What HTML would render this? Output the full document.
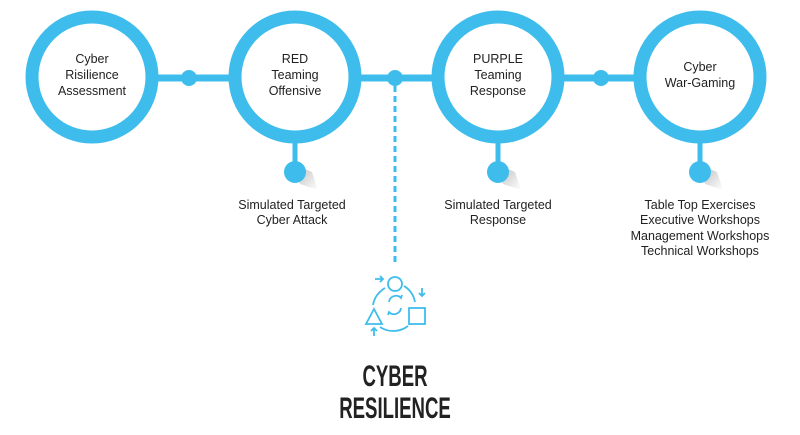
<!DOCTYPE html>
<html><head><meta charset="utf-8"><style>
html,body{margin:0;padding:0;background:#fff;}
svg{display:block}
.t{font-family:"Liberation Sans",sans-serif;font-size:12.5px;fill:#222;text-anchor:middle}
.c{font-family:"Liberation Sans",sans-serif;font-size:12.5px;fill:#222;text-anchor:middle}
.h{font-family:"Liberation Sans",sans-serif;font-weight:bold;font-size:30px;fill:#222;text-anchor:middle}
</style></head><body>
<svg width="800" height="435" viewBox="0 0 800 435">
<defs>
<linearGradient id="sh" x1="0" y1="0" x2="1" y2="1">
<stop offset="0" stop-color="#000" stop-opacity="0.28"/><stop offset="1" stop-color="#000" stop-opacity="0"/>
</linearGradient>
</defs>
<line x1="92" y1="78" x2="700" y2="78" stroke="#3ebdec" stroke-width="7"/>
<g fill="#3ebdec">
<circle cx="189" cy="78" r="8"/><circle cx="395" cy="78" r="8"/><circle cx="601" cy="78" r="8"/>
</g>
<line x1="395" y1="86" x2="395" y2="264" stroke="#3ebdec" stroke-width="3" stroke-dasharray="6,4"/>
<g fill="#fff" stroke="#3ebdec" stroke-width="13">
<circle cx="92" cy="77" r="60"/><circle cx="295" cy="77" r="60"/><circle cx="498" cy="77" r="60"/><circle cx="700" cy="77" r="60"/>
</g>
<g>
<polygon points="295,165 312,172 318,190 300,184" fill="url(#sh)"/>
<polygon points="498,165 515,172 521,190 503,184" fill="url(#sh)"/>
<polygon points="700,165 717,172 723,190 705,184" fill="url(#sh)"/>
</g>
<g stroke="#3ebdec" stroke-width="5">
<line x1="295" y1="140" x2="295" y2="165"/><line x1="498" y1="140" x2="498" y2="165"/><line x1="700" y1="140" x2="700" y2="165"/>
</g>
<g fill="#3ebdec">
<circle cx="295" cy="172" r="11"/><circle cx="498" cy="172" r="11"/><circle cx="700" cy="172" r="11"/>
</g>
<text class="c" x="92" y="63">Cyber</text><text class="c" x="92" y="79">Risilience</text><text class="c" x="92" y="95">Assessment</text>
<text class="c" x="295" y="63">RED</text><text class="c" x="295" y="79">Teaming</text><text class="c" x="295" y="95">Offensive</text>
<text class="c" x="498" y="63">PURPLE</text><text class="c" x="498" y="79">Teaming</text><text class="c" x="498" y="95">Response</text>
<text class="c" x="700" y="71">Cyber</text><text class="c" x="700" y="87">War-Gaming</text>
<text class="t" x="292" y="209">Simulated Targeted</text><text class="t" x="292" y="224">Cyber Attack</text>
<text class="t" x="498" y="209">Simulated Targeted</text><text class="t" x="498" y="224">Response</text>
<text class="t" x="700" y="209">Table Top Exercises</text><text class="t" x="700" y="224">Executive Workshops</text>
<text class="t" x="700" y="240">Management Workshops</text><text class="t" x="700" y="255">Technical Workshops</text>
<g fill="none" stroke="#3ebdec" stroke-width="1.8">
<circle cx="395" cy="284" r="7"/>
<rect x="409" y="308" width="16" height="16"/>
<polygon points="374,309 366,324 382,324"/>
<path d="M385 288 A24 24 0 0 0 373 305"/>
<path d="M404 286 A24 24 0 0 1 415 302"/>
<path d="M380 327 A24 24 0 0 0 408 326"/>
<path d="M375 279 L383 279 M380 276 L383 279 L380 282"/>
<path d="M422 288 L422 296 M419 293 L422 296 L425 293"/>
<path d="M374 336 L374 328 M371 331 L374 328 L377 331"/>
<path d="M389 302 A7 7 0 0 1 401 298 M399 296 L401 298 L402 295"/>
<path d="M401 308 A7 7 0 0 1 389 312 M391 314 L389 312 L388 315"/>
</g>
<g transform="translate(395,0) scale(0.62,1)">
<text class="h" x="0" y="386">CYBER</text>
<text class="h" x="0" y="418">RESILIENCE</text>
</g>
</svg>
</body></html>
